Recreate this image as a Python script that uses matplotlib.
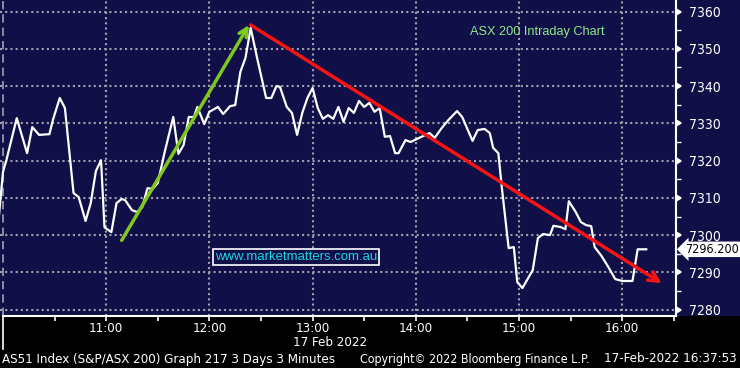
import matplotlib
matplotlib.use("Agg")
import matplotlib.pyplot as plt
import matplotlib.dates as mdates
import matplotlib.lines as mlines
import matplotlib.transforms as mtrans
from matplotlib.patches import Rectangle
from matplotlib.textpath import TextPath
from matplotlib.font_manager import FontProperties, fontManager
import pandas as pd

# -------------------------------
# DATA (ASX 200, 17 Feb 2022, 3 minute bars)
# -------------------------------
DAY = "2022-02-17"
times = [
    "09:57", "10:00", "10:02", "10:08", "10:14", "10:17", "10:21", "10:27", "10:29", "10:33",
    "10:36", "10:41", "10:44", "10:48", "10:51", "10:54", "10:57", "10:59", "11:03", "11:06",
    "11:09", "11:11", "11:15", "11:18", "11:21", "11:24", "11:27", "11:30", "11:34", "11:39",
    "11:42", "11:45", "11:48", "11:51", "11:53", "11:57", "12:00", "12:05", "12:08", "12:12",
    "12:15", "12:18", "12:21", "12:24", "12:28", "12:33", "12:36", "12:39", "12:41", "12:45",
    "12:48", "12:51", "12:54", "12:57", "13:00", "13:03", "13:06", "13:09", "13:12", "13:15",
    "13:18", "13:21", "13:24", "13:27", "13:30", "13:33", "13:36", "13:39", "13:42", "13:45",
    "13:48", "13:50", "13:54", "13:57", "14:02", "14:08", "14:11", "14:15", "14:19", "14:24",
    "14:27", "14:33", "14:36", "14:40", "14:43", "14:45", "14:48", "14:50", "14:54", "14:57",
    "14:59", "15:02", "15:08", "15:11", "15:14", "15:18", "15:20", "15:24", "15:27", "15:29",
    "15:33", "15:36", "15:39", "15:42", "15:44", "15:48", "15:52", "15:56", "16:00", "16:06",
    "16:09", "16:14",
]
values = [
    7302.0, 7317.0, 7320.2, 7331.4, 7322.0, 7329.0, 7326.9, 7327.1, 7330.9, 7336.8,
    7334.1, 7311.3, 7310.2, 7303.8, 7308.6, 7317.2, 7320.1, 7302.1, 7300.8, 7308.6,
    7309.7, 7309.4, 7306.7, 7306.2, 7307.5, 7312.6, 7312.4, 7314.0, 7322.3, 7331.7,
    7321.8, 7324.2, 7331.7, 7331.7, 7334.4, 7329.8, 7333.1, 7334.4, 7332.5, 7334.6,
    7334.9, 7343.8, 7347.6, 7355.6, 7347.0, 7336.8, 7336.8, 7340.0, 7339.8, 7334.4,
    7332.8, 7326.9, 7332.8, 7336.8, 7339.5, 7334.1, 7331.2, 7332.2, 7331.2, 7334.4,
    7330.4, 7334.1, 7332.8, 7336.0, 7334.4, 7335.5, 7333.1, 7334.1, 7326.4, 7326.6,
    7322.0, 7322.0, 7325.5, 7325.0, 7326.1, 7327.4, 7326.1, 7328.7, 7330.9, 7333.3,
    7331.7, 7325.3, 7328.2, 7328.5, 7327.4, 7323.4, 7322.0, 7312.9, 7296.5, 7296.8,
    7287.4, 7285.8, 7290.6, 7299.2, 7300.3, 7300.0, 7302.5, 7302.2, 7301.6, 7309.1,
    7306.2, 7303.5, 7302.7, 7302.4, 7296.8, 7294.4, 7291.4, 7288.2, 7287.7, 7287.7,
    7296.2, 7296.2,
]
last_price = 7296.2

# hand drawn trend arrows
up_arrow_times = ["11:09", "12:23"]
up_arrow_values = [7298.6, 7356.4]
down_arrow_times = ["12:24", "16:23"]
down_arrow_values = [7356.4, 7287.1]

y_ticks = [7280, 7290, 7300, 7310, 7320, 7330, 7340, 7350, 7360]
y_minor = [7285, 7295, 7305, 7315, 7325, 7335, 7345, 7355]
hour_ticks = ["11:00", "12:00", "13:00", "14:00", "15:00", "16:00"]
half_ticks = ["10:30", "11:30", "12:30", "13:30", "14:30", "15:30", "16:30"]
x_limits = ["09:58:15", "16:31:18"]
y_limits = [7278.3, 7363.1]

title_text = "ASX 200 Intraday Chart"
site_text = "www.marketmatters.com.au"
date_text = "17 Feb 2022"
footer_left = "AS51 Index (S&P/ASX 200) Graph 217 3 Days 3 Minutes"
footer_mid = "Copyright\u00a9 2022 Bloomberg Finance L.P."
footer_right = "17-Feb-2022 16:37:53"


def ts(t):
    return mdates.date2num(pd.to_datetime(DAY + " " + t))


def tlist(lst):
    return [ts(t) for t in lst]


# -------------------------------
# FONTS (narrow Bloomberg look if some condensed sans face exists)
# -------------------------------
faces = [f for f in fontManager.ttflist
         if f.style == "normal" and f.weight in (400, "normal", "regular")]
narrow = [f for f in faces
          if "Sans" in f.name and "Mono" not in f.name
          and ("Narrow" in f.name or "Condensed" in f.name
               or f.stretch in ("condensed", "semi-condensed"))]
if narrow:
    NARROW, STRETCH = narrow[0].name, narrow[0].stretch
else:
    NARROW, STRETCH = "Liberation Sans", "normal"
DPI = 100


def fit_size(s, px, family=NARROW, stretch=STRETCH):
    # font size (pt) so that the ink width of s is px pixels
    prop = FontProperties(family=family, stretch=stretch)
    w = TextPath((0, 0), s, size=10, prop=prop).get_extents().width
    return 10 * px / (w * DPI / 72)


# -------------------------------
# FIGURE
# -------------------------------
NAVY = "#110f48"
GRID = "#a0a0ae"
W, H = 740, 368
fig = plt.figure(figsize=(W / DPI, H / DPI), dpi=DPI, facecolor="black")
fig.patches.append(Rectangle((0, 52 / H), 1, 1, transform=fig.transFigure,
                             facecolor=NAVY, edgecolor="none", zorder=-10))
ax = fig.add_axes([0, 52 / H, 676 / W, 316 / H])
ax.set_facecolor(NAVY)
ax.set_axisbelow(True)

ax.plot(tlist(times), values, color="white", lw=1.6, zorder=3)

ax.set_xlim(tlist(x_limits))
ax.set_ylim(y_limits)

# -------------------------------
# AXES STYLE
# -------------------------------
for s in ("top", "left"):
    ax.spines[s].set_visible(False)
for s in ("bottom", "right"):
    ax.spines[s].set_color("white")
    ax.spines[s].set_linewidth(1.5)
ax.spines["bottom"].set_bounds(ts("10:00"), tlist(x_limits)[1])

ax.yaxis.tick_right()
ax.set_yticks(y_ticks)
ax.set_yticks(y_minor, minor=True)
ax.set_yticklabels([str(v) for v in y_ticks])
ax.tick_params(axis="y", which="major", colors="white", length=6, width=1.2, pad=3,
               labelsize=min(fit_size("7360", 30), 11))
ax.tick_params(axis="y", which="minor", colors="white", length=3.5, width=1)
for lab in ax.get_yticklabels():
    lab.set_family(NARROW)
    lab.set_fontstretch(STRETCH)
for tk in ax.yaxis.get_major_ticks():
    tk.tick2line.set_marker(mlines.CARETRIGHTBASE)
    tk.tick2line.set_markersize(5)

ax.set_xticks(tlist(hour_ticks))
ax.set_xticks(tlist(half_ticks), minor=True)
ax.set_xticklabels(hour_ticks)
ax.tick_params(axis="x", which="both", colors="white", length=3.5, width=1.2, pad=1,
               labelsize=min(fit_size("11:00", 34), 9.5))
for lab in ax.get_xticklabels():
    lab.set_family(NARROW)
    lab.set_fontstretch(STRETCH)

# dotted grid on the major ticks
ax.grid(True, which="major", color=GRID, lw=1.5, ls=(0, (1, 1.5)))
ax.axvline(ts("10:00"), color=GRID, lw=1.2, ls=(0, (5, 3)), zorder=1)

# trend arrows
ax.annotate("", xy=(ts(up_arrow_times[1]), up_arrow_values[1]),
            xytext=(ts(up_arrow_times[0]), up_arrow_values[0]),
            arrowprops=dict(arrowstyle="->,head_length=0.6,head_width=0.3",
                            color="#7ec81e", lw=2.5, shrinkA=0, shrinkB=0), zorder=4)
ax.annotate("", xy=(ts(down_arrow_times[1]), down_arrow_values[1]),
            xytext=(ts(down_arrow_times[0]), down_arrow_values[0]),
            arrowprops=dict(arrowstyle="->,head_length=0.7,head_width=0.35",
                            color="#f41414", lw=2.5, shrinkA=0, shrinkB=0), zorder=4)

# texts inside chart
ax.text(470 / 676, 1 - 32 / 316, title_text, transform=ax.transAxes, ha="left", va="center",
        color="#8fe88a", family="Liberation Sans",
        fontsize=fit_size(title_text, 134, "Liberation Sans", "normal"), zorder=5)
ax.text(296 / 676, 1 - 257 / 316, site_text, transform=ax.transAxes, ha="center", va="center",
        color="#19d6e6", family="Liberation Sans",
        fontsize=fit_size(site_text, 161, "Liberation Sans", "normal"), zorder=5,
        bbox=dict(boxstyle="square,pad=0.12", facecolor=NAVY, edgecolor="white", lw=1.2))

# day separator tick under the axis
sep = mtrans.blended_transform_factory(ax.transData, ax.transAxes)
ax.plot([ts("10:00"), ts("10:00")], [0, -33 / 316], transform=sep, color="white",
        lw=1.2, clip_on=False)

# last price tag
ax.text(685 / 676, last_price, f"{last_price:.3f}",
        transform=mtrans.blended_transform_factory(ax.transAxes, ax.transData),
        ha="left", va="center", color="black", family=NARROW, fontstretch=STRETCH,
        fontsize=min(fit_size("7296.200", 52), 11), zorder=6, clip_on=False,
        bbox=dict(boxstyle="larrow,pad=0.1", facecolor="white", edgecolor="none"))

# -------------------------------
# FOOTER
# -------------------------------
fig.text(330 / W, 1 - 343 / H, date_text, ha="center", va="center", color="white",
         family=NARROW, fontstretch=STRETCH, fontsize=min(fit_size(date_text, 74), 9.5))
fig.text(2 / W, 1 - 359 / H, footer_left, ha="left", va="center", color="white",
         family=NARROW, fontstretch=STRETCH, fontsize=fit_size(footer_left, 331))
fig.text(360 / W, 1 - 359 / H, footer_mid, ha="left", va="center", color="white",
         family=NARROW, fontstretch=STRETCH, fontsize=fit_size(footer_mid, 228))
fig.text(737 / W, 1 - 359 / H, footer_right, ha="right", va="center", color="white",
         family=NARROW, fontstretch=STRETCH, fontsize=fit_size(footer_right, 130))

fig.savefig("out.png", dpi=DPI, facecolor=fig.get_facecolor())
